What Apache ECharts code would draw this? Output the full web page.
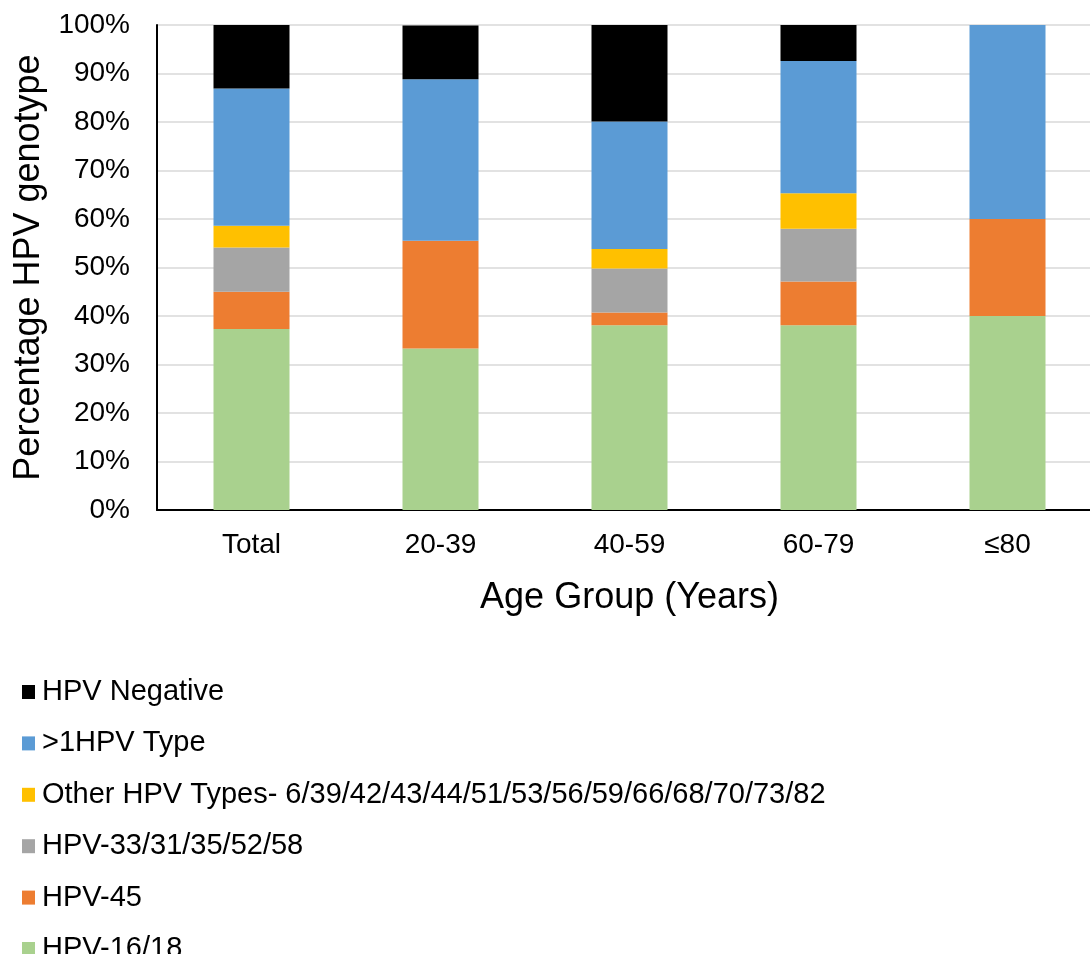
<!DOCTYPE html>
<html>
<head>
<meta charset="utf-8">
<script src="https://cdn.jsdelivr.net/npm/echarts@6/dist/echarts.min.js"></script>
<style>
html,body{margin:0;padding:0;background:#fff;}
#chart{width:1090px;height:954px;}
</style>
</head>
<body>
<div id="chart"></div>
<script>
var categories = ['Total', '20-39', '40-59', '60-79', '≤80'];
var hpv1618 = [37.3, 33.3, 38.1, 38.1, 40];
var hpv45 = [7.7, 22.2, 2.6, 9.0, 20];
var hpv33group = [9.1, 0, 9.1, 10.9, 0];
var otherTypes = [4.5, 0, 4.0, 7.3, 0];
var multiType = [28.3, 33.3, 26.3, 27.3, 40];
var negative = [13.1, 11.1, 19.9, 7.4, 0];
var yTicks = [0, 10, 20, 30, 40, 50, 60, 70, 80, 90, 100];

var seriesDefs = [
  {name: 'HPV-16/18', data: hpv1618, color: '#A9D18E'},
  {name: 'HPV-45', data: hpv45, color: '#ED7D31'},
  {name: 'HPV-33/31/35/52/58', data: hpv33group, color: '#A5A5A5'},
  {name: 'Other HPV Types- 6/39/42/43/44/51/53/56/59/66/68/70/73/82', data: otherTypes, color: '#FFC000'},
  {name: '>1HPV Type', data: multiType, color: '#5B9BD5'},
  {name: 'HPV Negative', data: negative, color: '#000000'}
];

var font = 'Liberation Sans, Arial, sans-serif';
var chart = echarts.init(document.getElementById('chart'));
chart.setOption({
  animation: false,
  textStyle: {fontFamily: font},
  grid: {left: 157, right: -12, top: 25, bottom: 444, containLabel: false, outerBoundsMode: 'none'},
  legend: {
    orient: 'vertical',
    left: 22,
    top: 677,
    padding: 0,
    height: 400,
    itemWidth: 13,
    itemHeight: 14,
    itemGap: 21.4,
    icon: 'rect',
    data: seriesDefs.map(function(s){return s.name;}).reverse(),
    textStyle: {fontSize: 29, color: '#000', fontFamily: font, lineHeight: 30, padding: [0,0,0,2]}
  },
  xAxis: {
    type: 'category',
    data: categories,
    name: 'Age Group (Years)',
    nameLocation: 'middle',
    nameGap: 70,
    nameTextStyle: {fontSize: 36, color: '#000', fontFamily: font},
    axisLine: {lineStyle: {color: '#000', width: 2}},
    axisTick: {show: false},
    axisLabel: {fontSize: 28, color: '#000', margin: 21, fontFamily: font}
  },
  yAxis: {
    type: 'value',
    min: yTicks[0],
    max: yTicks[yTicks.length - 1],
    interval: 10,
    name: 'Percentage HPV genotype',
    nameLocation: 'middle',
    nameGap: 107,
    nameTextStyle: {fontSize: 36, color: '#000', fontFamily: font},
    axisLine: {show: true, lineStyle: {color: '#000', width: 2}},
    axisTick: {show: false},
    axisLabel: {fontSize: 28, color: '#000', margin: 27, formatter: '{value}%', fontFamily: font},
    splitLine: {lineStyle: {color: '#D9D9D9', width: 1.5}}
  },
  series: seriesDefs.map(function(s){
    return {
      name: s.name,
      type: 'bar',
      stack: 'total',
      barWidth: 76,
      data: s.data,
      itemStyle: {color: s.color},
      emphasis: {disabled: true}
    };
  })
});
</script>
</body>
</html>
